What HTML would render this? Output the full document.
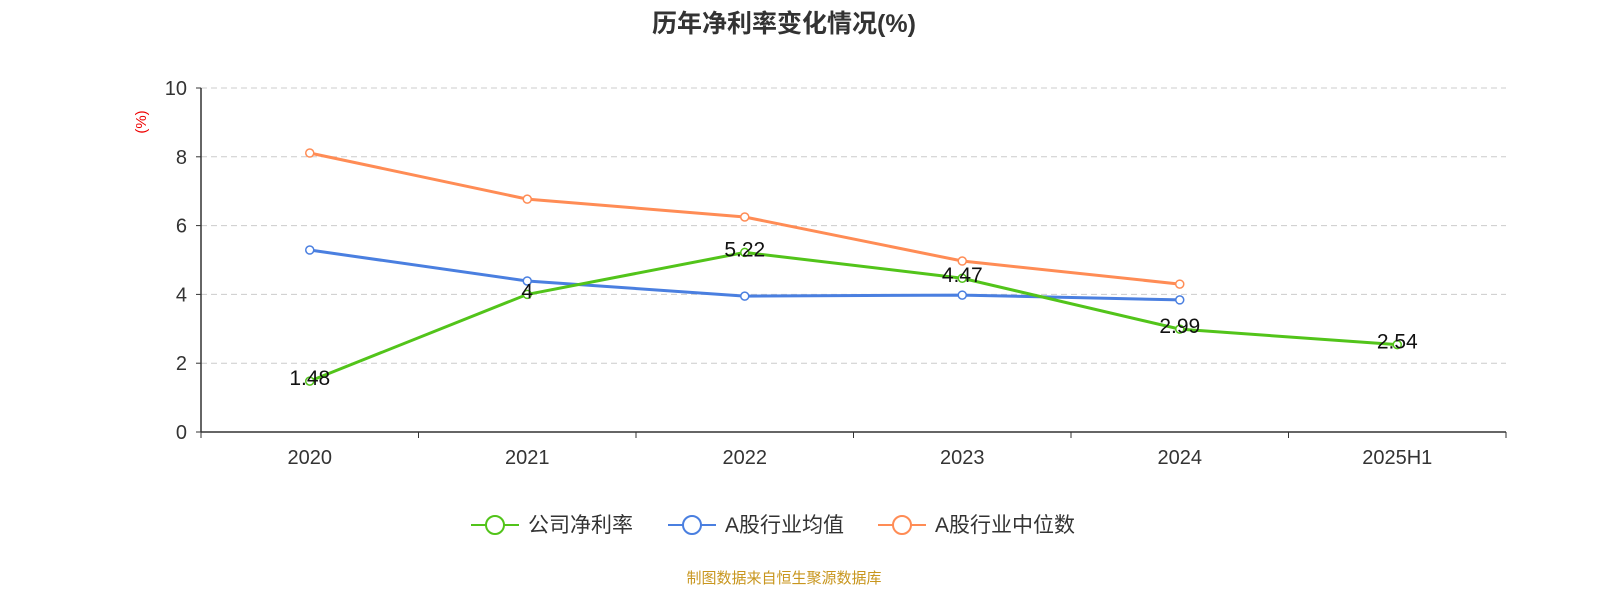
<!DOCTYPE html>
<html><head><meta charset="utf-8"><style>
body{margin:0;background:#fff;width:1600px;height:600px;overflow:hidden;font-family:"Liberation Sans","Noto Sans CJK SC",sans-serif}
</style></head><body>
<svg id="c" width="1600" height="600" xmlns="http://www.w3.org/2000/svg" font-family="Liberation Sans, Noto Sans CJK SC, sans-serif">
<text x="784" y="32" text-anchor="middle" font-size="25" font-weight="bold" fill="#333">历年净利率变化情况(%)</text>
<text transform="translate(146,122) rotate(-90)" text-anchor="middle" font-size="15" fill="#e00">(%)</text>
<g id="grid"></g><g id="series"></g>
<text x="784" y="583" text-anchor="middle" font-size="15" fill="#c8961e">制图数据来自恒生聚源数据库</text>
</svg>
<script>
const categories=["2020","2021","2022","2023","2024","2025H1"];
const companyVals=[1.48,4,5.22,4.47,2.99,2.54];
const avgVals=[5.29,4.39,3.95,3.98,3.84];
const medianVals=[8.11,6.77,6.25,4.97,4.30];
const yTicks=[0,2,4,6,8,10];
const seriesNames=["公司净利率","A股行业均值","A股行业中位数"];
const colors=["#52c41a","#4a7fe0","#ff8c55"];
const NS="http://www.w3.org/2000/svg";
const L=201,R=1506,T=88,B=432;
const bw=(R-L)/categories.length;
const xs=i=>L+bw*(i+0.5);
const ys=v=>B-(v/10)*(B-T);
function mk(t,a,p){const e=document.createElementNS(NS,t);for(const k in a)e.setAttribute(k,a[k]);p.appendChild(e);return e;}
const g=document.getElementById('grid'),s=document.getElementById('series');
yTicks.forEach(v=>{
  if(v>0){const l=mk('line',{x1:L,x2:R,y1:ys(v),y2:ys(v),stroke:'#ccc','stroke-dasharray':'6,4'},g);
  
  }
  const tk=mk('line',{x1:L-5,x2:L,y1:ys(v),y2:ys(v),stroke:'#333'},g);
  
  
  const t=mk('text',{x:L-14,y:ys(v)+7,'text-anchor':'end','font-size':20,fill:'#333'},g);t.textContent=v;
  
  
});
const ya=mk('line',{x1:L,x2:L,y1:T,y2:B,stroke:'#333','stroke-width':1.5},g);


const xa=mk('line',{x1:L,x2:R,y1:B,y2:B,stroke:'#333','stroke-width':1.5},g);


for(let i=0;i<=categories.length;i++){const t=mk('line',{x1:L+bw*i,x2:L+bw*i,y1:B,y2:B+6,stroke:'#333'},g);

}
categories.forEach((c,i)=>{const t=mk('text',{x:xs(i),y:464,'text-anchor':'middle','font-size':20,fill:'#333'},g);t.textContent=c;

});
function line(vals,col,name,labels){
  const pts=vals.map((v,i)=>xs(i)+','+ys(v)).join(' ');
  const pl=mk('polyline',{points:pts,fill:'none',stroke:col,'stroke-width':3},s);
  
  
  vals.forEach((v,i)=>{const c=mk('circle',{cx:xs(i),cy:ys(v),r:4,fill:'#fff',stroke:col,'stroke-width':1.5},s);
  
  
  if(labels){const t=mk('text',{x:xs(i),y:ys(v)+4,'text-anchor':'middle','font-size':21,fill:'#111'},s);t.textContent=v;
  
  }});
}
line(medianVals,colors[2],'median',false);
line(avgVals,colors[1],'average',false);
line(companyVals,colors[0],'company',true);
const lx=[471,668,878];
seriesNames.forEach((n,i)=>{
  const lg=mk('g',{},s);
  
  
  mk('line',{x1:lx[i],x2:lx[i]+48,y1:525,y2:525,stroke:colors[i],'stroke-width':2},lg);
  mk('circle',{cx:lx[i]+24,cy:525,r:9,fill:'#fff',stroke:colors[i],'stroke-width':2},lg);
  const t=mk('text',{x:lx[i]+57,y:532,'font-size':21,fill:'#333'},lg);t.textContent=n;
});
</script>
</body></html>
